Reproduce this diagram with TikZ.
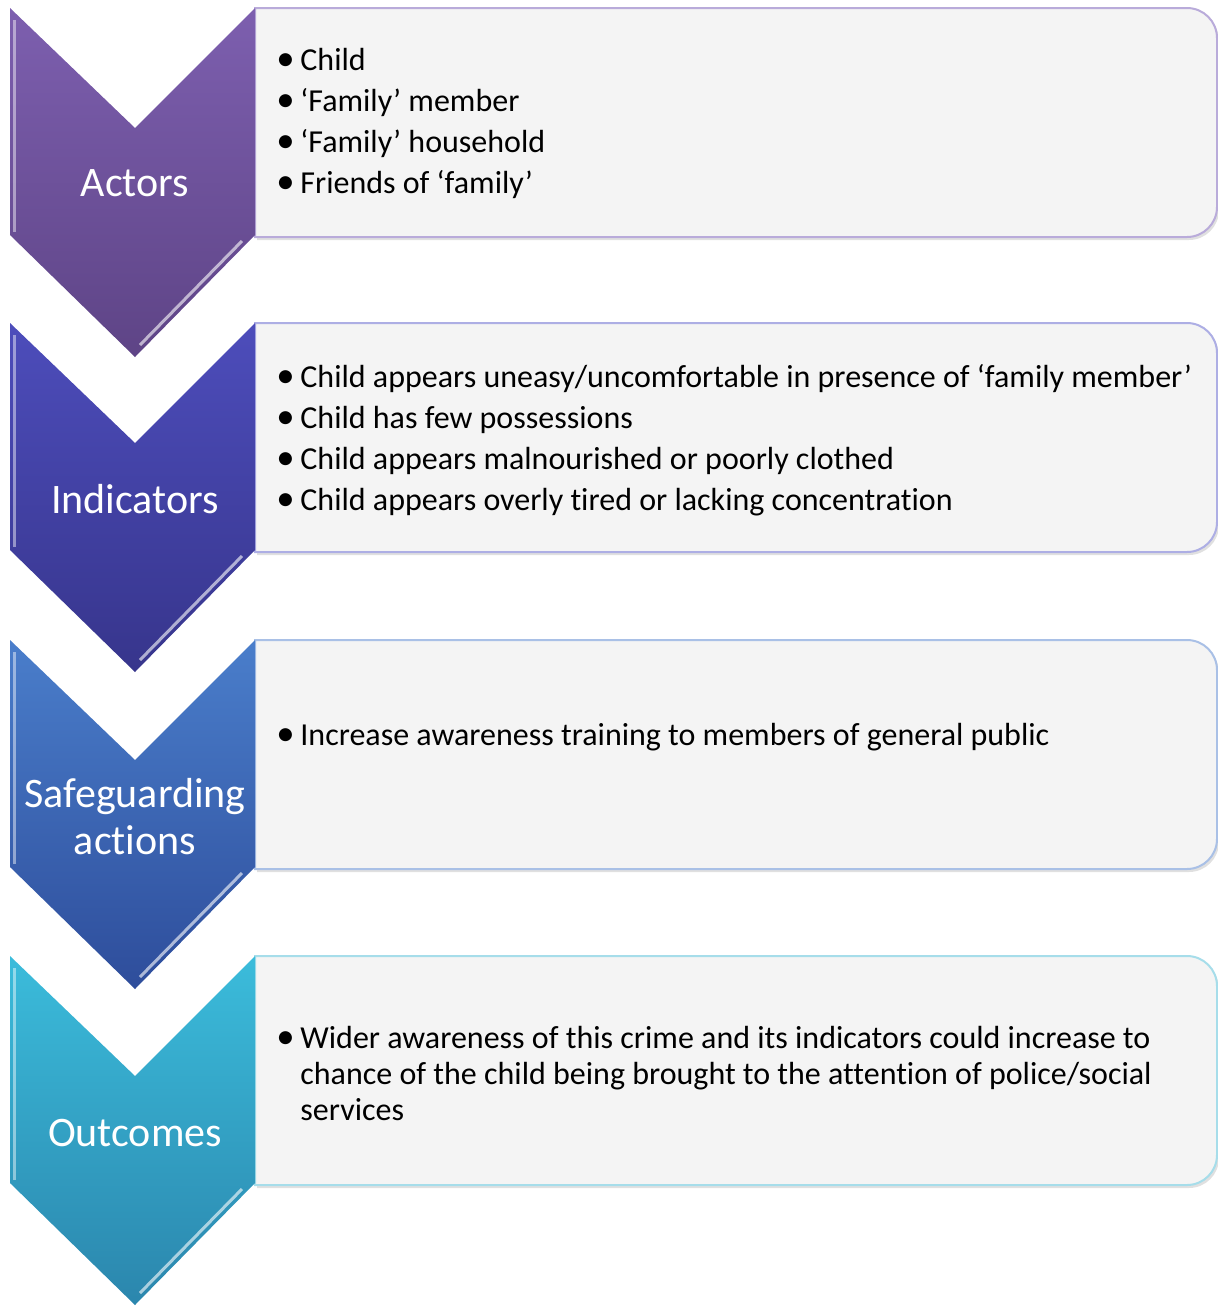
\documentclass[tikz,border=0pt]{standalone}
\usepackage{fontspec}
\setmainfont{Carlito}[Ligatures=NoCommon]
\usetikzlibrary{calc}
\definecolor{boxgray}{HTML}{F4F4F4}
\definecolor{actorstop}{HTML}{7D5FAF}
\definecolor{actorsbot}{HTML}{5E4486}
\definecolor{actorsrim}{HTML}{B9ABDA}
\definecolor{indictop}{HTML}{4D4DBB}
\definecolor{indicbot}{HTML}{37358C}
\definecolor{indicrim}{HTML}{ADAEE4}
\definecolor{safetop}{HTML}{4A7ECB}
\definecolor{safebot}{HTML}{2E4D9B}
\definecolor{saferim}{HTML}{A9C0E6}
\definecolor{outtop}{HTML}{3BBCDB}
\definecolor{outbot}{HTML}{2B86AD}
\definecolor{outrim}{HTML}{A6DDEA}
\def\chevron(#1)[#2][#3]{\shade[top color=#2, bottom color=#3] (10,#1) -- ++(125,-120) -- ++(120,120) -- ++(0,-227) -- ++(-120,-122) -- ++(-125,122) -- cycle;
	\draw[white, opacity=0.45, line width=1.5pt] (14,#1-12) -- (14,#1-224);
	\draw[white, opacity=0.6, line width=1.5pt] (242,#1-233) -- (140,#1-337);}
\def\infobox(#1)[#2]{\begin{scope}[shift={(0,#1)}]
	\fill[black!12, xshift=1pt, yshift=-1.5pt] (255,0) -- (1187,0) arc (90:0:30) -- (1217,-199) arc (0:-90:30) -- (255,-229) -- cycle;
	\draw[draw=#2, fill=boxgray, line width=1pt] (255,0) -- (1187,0) arc (90:0:30) -- (1217,-199) arc (0:-90:30) -- (255,-229) -- cycle;
	\end{scope}}
\def\bul{\makebox[10.5pt][l]{\hspace{-1.5pt}\scalebox{1.15}{•}}}

\begin{document}
\begin{tikzpicture}[x=0.5pt, y=0.5pt,
	stagelabel/.style={text=white, align=center, inner sep=0pt, font=\fontsize{21}{23.5}\selectfont},
	bulletlist/.style={anchor=west, align=left, inner sep=0pt, font=\fontsize{16}{20.5}\selectfont}]
	%%%%% START %%%%%
	
	\useasboundingbox (0,0) rectangle (1218,-1308);
	
	\infobox(-8)[actorsrim]
	\chevron(-8)[actorstop][actorsbot]
	\node[stagelabel] (actors) at (135,-183) {Actors};
	\node[bulletlist] (actorlist) at (279,-123) {\bul Child\\ \bul ‘Family’ member\\ \bul ‘Family’ household\\ \bul Friends of ‘family’};
	
	\infobox(-323)[indicrim]
	\chevron(-323)[indictop][indicbot]
	\node[stagelabel] (indicators) at (135,-499) {Indicators};
	\node[bulletlist] (indiclist) at (279,-440) {\bul Child appears uneasy/uncomfortable in presence of ‘family member’\\ \bul Child has few possessions\\ \bul Child appears malnourished or poorly clothed\\ \bul Child appears overly tired or lacking concentration};
	
	\infobox(-640)[saferim]
	\chevron(-640)[safetop][safebot]
	\node[stagelabel] (safeguarding) at (135,-817) {Safeguarding\\ actions};
	\node[bulletlist] (safelist) at (279,-737) {\bul Increase awareness training to members of general public};
	
	\infobox(-956)[outrim]
	\chevron(-956)[outtop][outbot]
	\node[stagelabel] (outcomes) at (135,-1133) {Outcomes};
	\node[bulletlist, font=\fontsize{16}{18}\selectfont] (outlist) at (279,-1073) {\bul Wider awareness of this crime and its indicators could increase to\\ \hspace*{10.5pt}chance of the child being brought to the attention of police/social\\ \hspace*{10.5pt}services};
	
	%%%%% END %%%%%
\end{tikzpicture}
\end{document}
